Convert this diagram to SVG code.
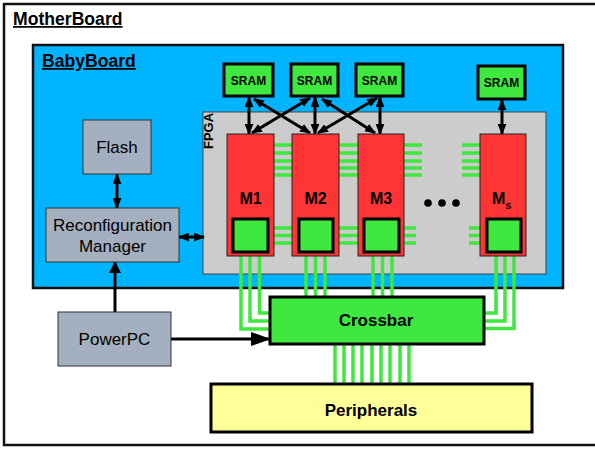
<svg xmlns="http://www.w3.org/2000/svg" width="595" height="450" viewBox="0 0 595 450">
<defs>
<style>
.t{font-family:"Liberation Sans",Arial,sans-serif;fill:#000}
.b{font-weight:bold}
.gray{fill:#A4B0BF;stroke:#333;stroke-width:1}
.grn{fill:#3EE83E;stroke:#000;stroke-width:3}
.red{fill:#FF3434;stroke:#222;stroke-width:1}
.w{fill:none;stroke:#3EE83E;stroke-width:3.5}
.a{fill:none;stroke:#000;stroke-width:3}
</style>
<marker id="ah" viewBox="0 0 10 8" refX="9" refY="4" markerWidth="11" markerHeight="9" markerUnits="userSpaceOnUse" orient="auto-start-reverse">
<path d="M0,0 L10,4 L0,8 z" fill="#000"/>
</marker>
<marker id="ahb" viewBox="0 0 20 14" refX="19" refY="7" markerWidth="20" markerHeight="14" markerUnits="userSpaceOnUse" orient="auto">
<path d="M0,0 L20,7 L0,14 z" fill="#000"/>
</marker>
<marker id="ahm" viewBox="0 0 12 12" refX="11" refY="6" markerWidth="12" markerHeight="12" markerUnits="userSpaceOnUse" orient="auto">
<path d="M0,0 L12,6 L0,12 z" fill="#000"/>
</marker>
</defs>

<g id="motherboard">
<rect x="4" y="4" width="610" height="441" fill="#fff" stroke="#111" stroke-width="2.5"/>
<text class="t b" x="13" y="25" font-size="17.6" text-decoration="underline">MotherBoard</text>
</g>

<g id="babyboard">
<rect x="33" y="45" width="530" height="243" fill="#00B4FF" stroke="#111" stroke-width="2.5"/>
<text class="t b" x="42" y="67" font-size="17.6" text-decoration="underline">BabyBoard</text>
</g>

<g id="fpga">
<rect x="203" y="112" width="343" height="162" fill="#CCCCCC" stroke="#444" stroke-width="1"/>
<text class="t b" font-size="13" text-anchor="middle" transform="translate(213,131) rotate(-90)">FPGA</text>
</g>

<g id="connectors">
<path class="w" d="M274,145H292M274,153H292M274,161H292M274,168H292M274,175H292"/>
<path class="w" d="M339,145H358M339,153H358M339,161H358M339,168H358M339,175H358"/>
<path class="w" d="M404,145H422M404,153H422M404,161H422M404,168H422M404,175H422"/>
<path class="w" d="M462,145H480M462,153H480M462,161H480M462,168H480M462,175H480"/>
<path class="w" d="M268,228H299M268,235.5H299M268,243H299"/>
<path class="w" d="M333,228H364M333,235.5H364M333,243H364"/>
<path class="w" d="M399,228H416M399,235.5H416M399,243H416"/>
<path class="w" d="M469,228H487M469,235.5H487M469,243H487"/>
<path class="w" d="M241,256V329H270M250,256V321H270M259.5,256V313H270"/>
<path class="w" d="M306,256V297M315.5,256V297M325,256V297"/>
<path class="w" d="M373,256V297M382.5,256V297M392,256V297"/>
<path class="w" d="M496,256V313H484M505,256V321H484M514,256V328.5H484"/>
<path class="w" d="M335,344V384M344,344V384M353,344V384M362,344V384M372,344V384M381,344V384M390,344V384M400,344V384M409,344V384"/>
<line class="a" x1="249" y1="97" x2="249" y2="134" marker-start="url(#ah)" marker-end="url(#ah)"/>
<line class="a" x1="315" y1="97" x2="315" y2="134" marker-start="url(#ah)" marker-end="url(#ah)"/>
<line class="a" x1="380" y1="97" x2="380" y2="134" marker-start="url(#ah)" marker-end="url(#ah)"/>
<line class="a" x1="502" y1="100" x2="502" y2="134" marker-start="url(#ah)" marker-end="url(#ah)"/>
<line class="a" x1="254" y1="99" x2="310" y2="133" marker-start="url(#ah)" marker-end="url(#ah)"/>
<line class="a" x1="310" y1="98" x2="252" y2="133" marker-start="url(#ah)" marker-end="url(#ah)"/>
<line class="a" x1="322" y1="99" x2="375" y2="133" marker-start="url(#ah)" marker-end="url(#ah)"/>
<line class="a" x1="377" y1="98" x2="318" y2="133" marker-start="url(#ah)" marker-end="url(#ah)"/>
<line class="a" x1="117" y1="174" x2="117" y2="208" stroke-width="3.5" marker-start="url(#ah)" marker-end="url(#ah)"/>
<line class="a" x1="179" y1="237" x2="204" y2="237" stroke-width="3" marker-start="url(#ah)" marker-end="url(#ah)"/>
<line class="a" x1="115" y1="312" x2="115" y2="262" stroke-width="4" marker-end="url(#ahm)"/>
<line class="a" x1="171" y1="339" x2="270" y2="339" stroke-width="4" marker-end="url(#ahb)"/>
</g>

<g id="m1"><rect class="red" x="227" y="134" width="47" height="122"/><text class="t b" x="250.5" y="204" font-size="16" text-anchor="middle">M1</text><rect class="grn" x="233" y="219" width="35" height="33"/></g>
<g id="m2"><rect class="red" x="292" y="134" width="47" height="122"/><text class="t b" x="315.5" y="204" font-size="16" text-anchor="middle">M2</text><rect class="grn" x="299" y="219" width="34" height="33"/></g>
<g id="m3"><rect class="red" x="358" y="134" width="46" height="122"/><text class="t b" x="381" y="204" font-size="16" text-anchor="middle">M3</text><rect class="grn" x="364" y="219" width="35" height="33"/></g>
<g id="ms"><rect class="red" x="480" y="134" width="46" height="122"/><text class="t b" x="492" y="204" font-size="16">M<tspan font-size="11" dy="5">s</tspan></text><rect class="grn" x="487" y="219" width="34" height="33"/></g>

<g id="dots" fill="#000"><circle cx="428" cy="203" r="3.8"/><circle cx="442" cy="203" r="3.8"/><circle cx="456" cy="203" r="3.8"/></g>

<g id="sram1"><rect class="grn" x="224" y="64" width="49" height="32"/><text class="t b" x="248.5" y="84.5" font-size="12" text-anchor="middle">SRAM</text></g>
<g id="sram2"><rect class="grn" x="291" y="64" width="47" height="32"/><text class="t b" x="314.5" y="84.5" font-size="12" text-anchor="middle">SRAM</text></g>
<g id="sram3"><rect class="grn" x="356" y="64" width="47" height="32"/><text class="t b" x="379.5" y="84.5" font-size="12" text-anchor="middle">SRAM</text></g>
<g id="sram4"><rect class="grn" x="478" y="66" width="47" height="33"/><text class="t b" x="501.5" y="86.5" font-size="12" text-anchor="middle">SRAM</text></g>

<g id="flash"><rect class="gray" x="83" y="120" width="68" height="54"/><text class="t" x="117" y="153" font-size="17" text-anchor="middle" fill="#111">Flash</text></g>
<g id="reconfig"><rect class="gray" x="46" y="208" width="133" height="54"/><text class="t" x="112.5" y="231" font-size="17" text-anchor="middle">Reconfiguration</text><text class="t" x="112.5" y="252" font-size="17" text-anchor="middle">Manager</text></g>
<g id="powerpc"><rect class="gray" x="58" y="312" width="113" height="54"/><text class="t" x="114.5" y="345" font-size="17" text-anchor="middle">PowerPC</text></g>

<g id="crossbar"><rect class="grn" x="270" y="297" width="214" height="47"/><text class="t b" x="376" y="326" font-size="17" text-anchor="middle">Crossbar</text></g>
<g id="peripherals"><rect x="211" y="384" width="321" height="48" fill="#FFFF99" stroke="#000" stroke-width="3"/><text class="t b" x="371" y="416" font-size="17" text-anchor="middle">Peripherals</text></g>
</svg>
